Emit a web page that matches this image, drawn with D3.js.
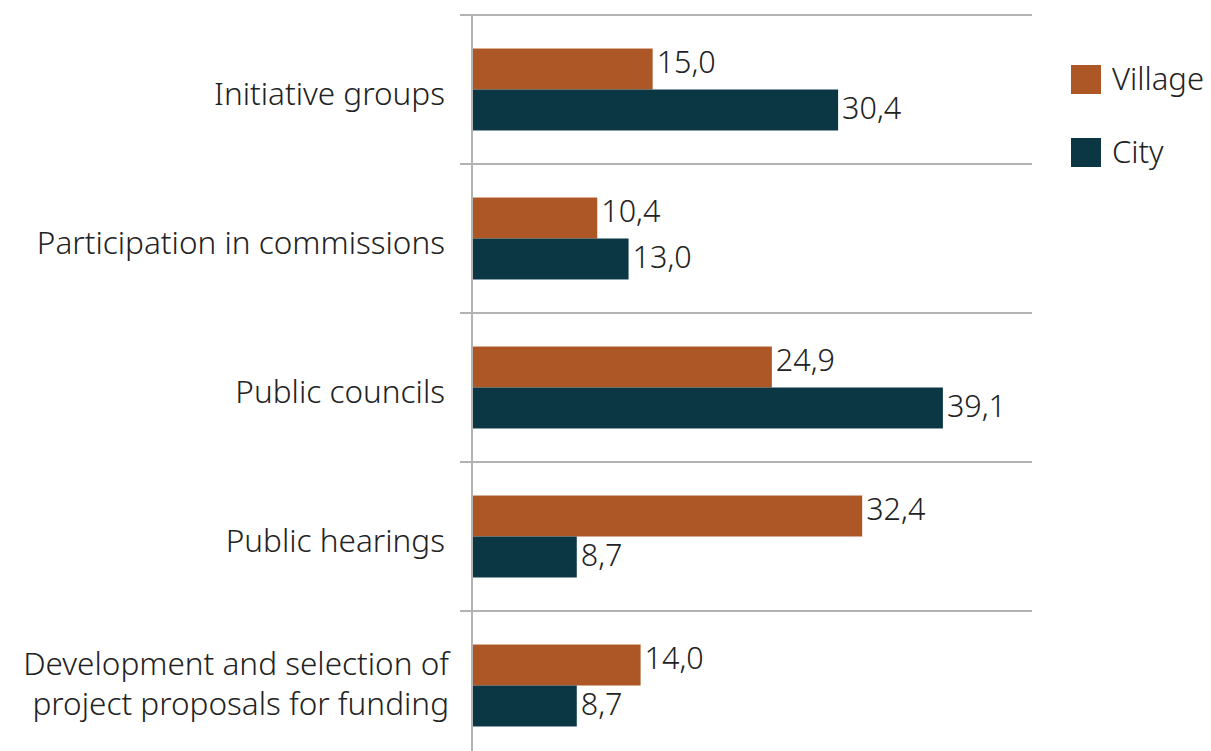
<!DOCTYPE html>
<html>
<head>
<meta charset="utf-8">
<script src="https://cdn.jsdelivr.net/npm/d3@7"></script>
<style>
  body { margin: 0; background: #fff; }
  text { font-family: "Noto Sans", sans-serif; font-weight: 300; fill: #222; }
</style>
</head>
<body>
<svg id="chart"></svg>
<script>
const categories = [
  "Initiative groups",
  "Participation in commissions",
  "Public councils",
  "Public hearings",
  "Development and selection of\nproject proposals for funding"
];
const seriesNames = ["Village", "City"];
const village = [15.0, 10.4, 24.9, 32.4, 14.0];
const city = [30.4, 13.0, 39.1, 8.7, 8.7];
const colors = ["#ad5726", "#0b3745"];

const width = 1211, height = 751;
const plotLeft = 472, plotRight = 1032, plotTop = 15, plotBottom = 760;

const rows = categories.map((c, i) => ({
  cat: c,
  vals: [
    { key: seriesNames[0], v: village[i] },
    { key: seriesNames[1], v: city[i] }
  ]
}));

const svg = d3.select('#chart')
    .attr('width', width)
    .attr('height', height);

const x = d3.scaleLinear()
  .domain([0, 46.5])
  .range([plotLeft, plotRight]);

const y = d3.scaleBand()
  .domain(categories)
  .range([plotTop, plotBottom])
  .paddingInner(0.45)
  .paddingOuter(0.225);

const ySub = d3.scaleBand()
  .domain(seriesNames)
  .range([0, y.bandwidth()]);

const step = y.step();
const bounds = d3.range(categories.length + 1).map(i => plotTop + i * step);

// category separators
svg.append('g')
  .selectAll('line')
  .data(bounds)
  .join('line')
    .attr('x1', plotLeft - 12)
    .attr('x2', plotRight)
    .attr('y1', d => d)
    .attr('y2', d => d)
    .attr('stroke', '#b3b3b3')
    .attr('stroke-width', 2)

// vertical axis line
svg.append('line')
  .attr('x1', plotLeft).attr('x2', plotLeft)
  .attr('y1', plotTop).attr('y2', height)
  .attr('stroke', '#b3b3b3')
  .attr('stroke-width', 2)

const grp = svg.append('g')
  .selectAll('g')
  .data(rows)
  .join('g')
    .attr('transform', d => `translate(0, ${y(d.cat)})`)

grp.selectAll('rect')
  .data(d => d.vals)
  .join('rect')
    .attr('x', x(0) + 1)
    .attr('y', d => ySub(d.key))
    .attr('width', d => x(d.v) - x(0) - 1)
    .attr('height', ySub.bandwidth())
    .attr('fill', (d, i) => colors[i])

// village labels sit a little higher than city ones
grp.selectAll('text.val')
  .data(d => d.vals)
  .join('text')
    .attr('class', 'val')
    .attr('x', d => x(d.v) + 4)
    .attr('y', d => ySub(d.key) + ySub.bandwidth() / 2)
    .attr('dy', (d, i) => i === 0 ? '0.14em' : '0.31em')
    .style('font-size', '30.5px')
    .text(d => d3.format('.1f')(d.v).replace('.', ','))

// category labels
const catLabels = svg.append('g')
  .selectAll('text')
  .data(categories)
  .join('text')
    .attr('x', 445)
    .attr('y', d => y(d) + y.bandwidth() / 2)
    .attr('text-anchor', 'end')
    .style('font-size', '31.5px')

catLabels.each(function(d) {
  const lines = d.split('\n');
  const t = d3.select(this);
  lines.forEach((ln, i) => {
    t.append('tspan')
      .attr('x', lines.length > 1 ? 449 : 445)
      .attr('dy', i === 0 ? (lines.length > 1 ? '-0.33em' : '0.5em') : '1.28em')
      .text(ln);
  });
});

// legend
const legend = svg.append('g')
  .selectAll('g')
  .data(seriesNames)
  .join('g')
    .attr('transform', (d, i) => `translate(1071, ${65 + i * 73})`)

legend.append('rect')
  .attr('width', 30)
  .attr('height', 29)
  .attr('fill', (d, i) => colors[i])

legend.append('text')
  .attr('x', 41)
  .attr('y', 14.5)
  .attr('dy', '0.35em')
  .style('font-size', '31px')
  .text(d => d)
</script>
</body>
</html>
